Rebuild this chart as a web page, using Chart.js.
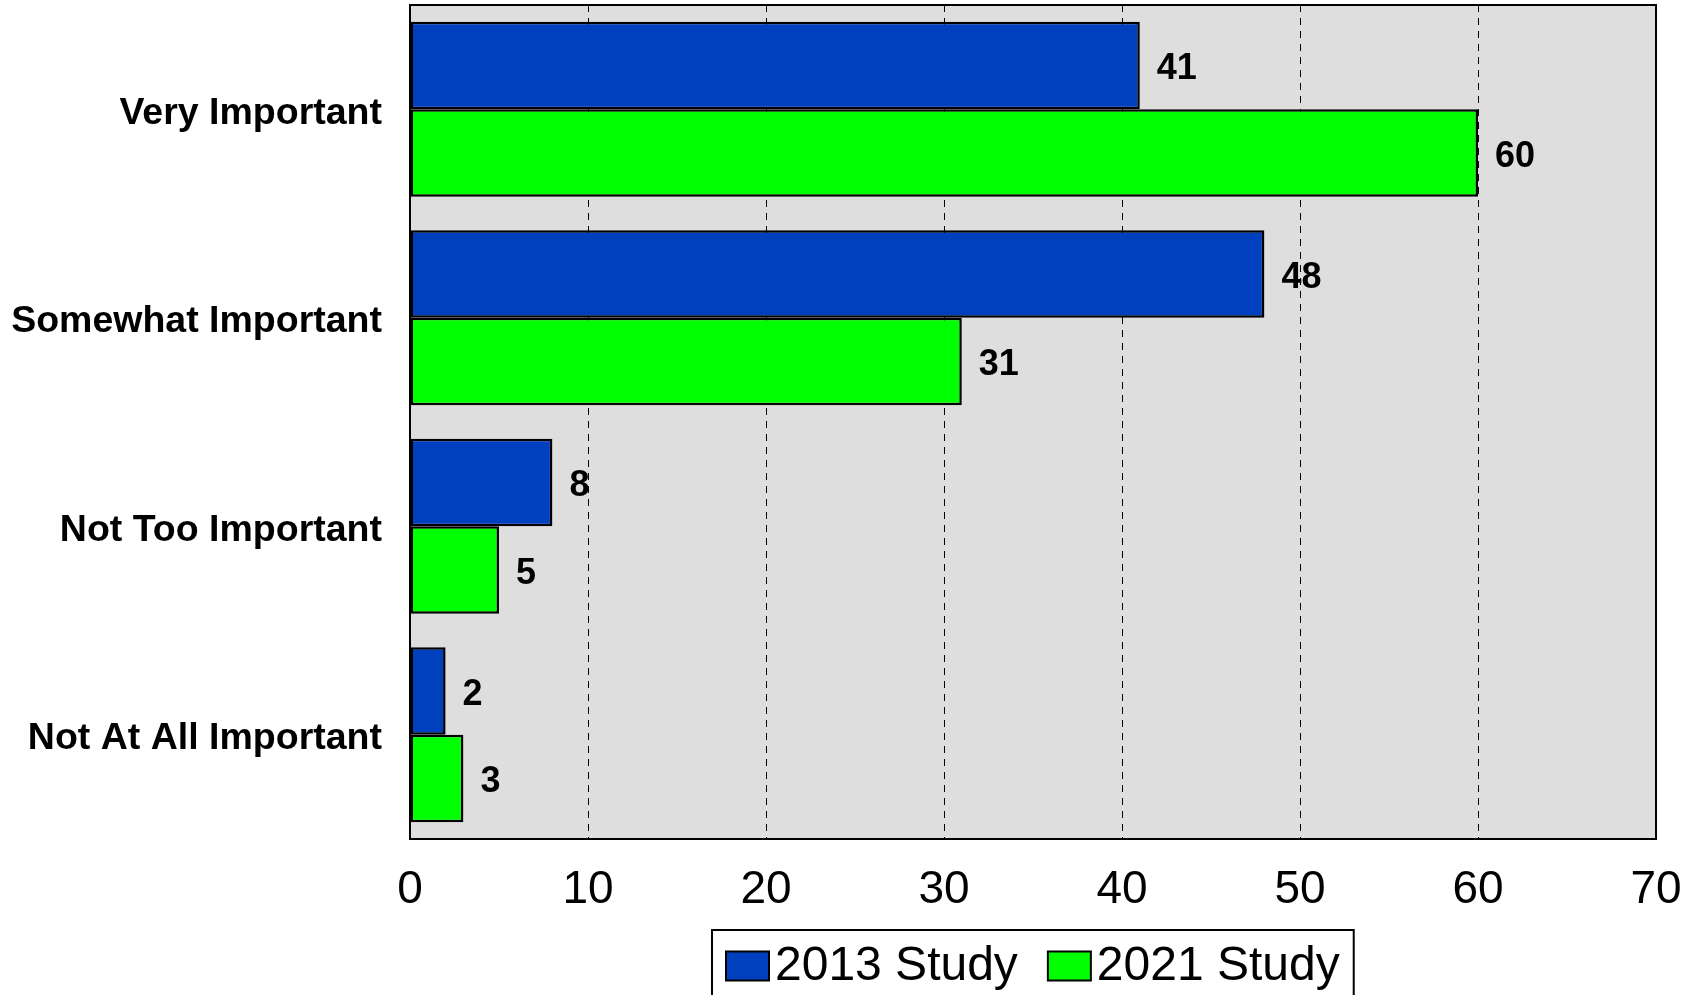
<!DOCTYPE html>
<html>
<head>
<meta charset="utf-8">
<script src="https://cdn.jsdelivr.net/npm/chart.js@4/dist/chart.umd.min.js"></script>
<style>
  html, body { margin: 0; padding: 0; background: #ffffff; }
  #chart { display: block; }
</style>
</head>
<body>
<canvas id="chart" width="1694" height="995"></canvas>
<script>
// Importance ratings, percent of respondents
const categories = ['Very Important', 'Somewhat Important', 'Not Too Important', 'Not At All Important'];
const study2013 = [41, 48, 8, 2];
const study2021 = [60, 31, 5, 3];
const seriesNames = ['2013 Study', '2021 Study'];
const xTicks = [0, 10, 20, 30, 40, 50, 60, 70];

const FONT = "Arial, 'Liberation Sans', sans-serif";

// grey plot background + black frame
const plotFrame = {
    id: 'plotFrame',
    beforeDraw(chart) {
        const { ctx, chartArea: a } = chart;
        ctx.save();
        ctx.fillStyle = '#dedede';
        ctx.fillRect(a.left, a.top, a.right - a.left, a.bottom - a.top);
        ctx.restore();
    },
    afterDatasetsDraw(chart) {
        const { ctx, chartArea: a } = chart;
        ctx.save();
        ctx.strokeStyle = '#000';
        ctx.lineWidth = 2;
        ctx.strokeRect(a.left, a.top, a.right - a.left, a.bottom - a.top);
        ctx.restore();
    }
};

// numbers at the end of each bar
const barValues = {
    id: 'barValues',
    afterDatasetsDraw(chart) {
        const { ctx } = chart;
        ctx.save();
        ctx.font = 'bold 36px ' + FONT;
        ctx.fillStyle = '#000';
        ctx.textAlign = 'left';
        ctx.textBaseline = 'middle';
        chart.data.datasets.forEach((ds, i) => {
            chart.getDatasetMeta(i).data.forEach((bar, j) => {
                ctx.fillText(String(ds.data[j]), bar.x + 17, bar.y + 4);
            });
        });
        ctx.restore();
    }
};

// boxed legend under the axis
const boxLegend = {
    id: 'boxLegend',
    afterDraw(chart) {
        const { ctx, chartArea: a } = chart;
        const sw = 43, sh = 29, gap = 6, itemGap = 30, padL = 14, padR = 14;
        ctx.save();
        ctx.font = '48px ' + FONT;
        const items = chart.data.datasets.map(ds => ({
            label: ds.label, color: ds.backgroundColor, w: ctx.measureText(ds.label).width
        }));
        let total = padL + padR;
        items.forEach((it, i) => { total += sw + gap + it.w + (i ? itemGap : 0); });
        const left = Math.round((a.left + a.right) / 2 - total / 2);
        const top = 930;
        const cy = 966;
        ctx.strokeStyle = '#000';
        ctx.lineWidth = 2;
        ctx.strokeRect(left, top, total, 100);
        let x = left + padL;
        items.forEach((it, i) => {
            if (i) x += itemGap;
            ctx.fillStyle = it.color;
            ctx.fillRect(x, cy - sh / 2, sw, sh);
            ctx.lineWidth = 2;
            ctx.strokeRect(x, cy - sh / 2, sw, sh);
            ctx.fillStyle = '#000';
            ctx.textAlign = 'left';
            ctx.textBaseline = 'middle';
            ctx.fillText(it.label, x + sw + gap, cy + 1);
            x += sw + gap + it.w;
        });
        ctx.restore();
    }
};

new Chart(document.getElementById('chart'), {
    type: 'bar',
    data: {
        labels: categories,
        datasets: [
            {
                label: seriesNames[0],
                data: study2013,
                backgroundColor: '#0040bf',
                borderColor: '#000',
                borderWidth: 2.5,
                borderSkipped: false
            },
            {
                label: seriesNames[1],
                data: study2021,
                backgroundColor: '#00ff00',
                borderColor: '#000',
                borderWidth: 2.5,
                borderSkipped: false
            }
        ]
    },
    options: {
        indexAxis: 'y',
        responsive: false,
        animation: false,
        devicePixelRatio: 1,
        categoryPercentage: 0.84,
        barPercentage: 1.0,
        layout: { padding: { top: 5, right: 38, bottom: 0, left: 0 } },
        plugins: {
            legend: { display: false },
            tooltip: { enabled: false }
        },
        scales: {
            x: {
                min: xTicks[0],
                max: xTicks[xTicks.length - 1],
                afterBuildTicks(scale) {
                    scale.ticks = xTicks.map(v => ({ value: v }));
                },
                afterFit(scale) {
                    scale.height = 156;
                    scale.paddingLeft = 0;
                    scale.paddingRight = 0;
                },
                grid: {
                    display: true,
                    color: '#000',
                    lineWidth: 1,
                    drawTicks: false
                },
                border: { display: false, dash: [7, 6] },
                ticks: {
                    color: '#000',
                    font: { family: FONT, size: 46 },
                    padding: 24,
                    maxRotation: 0
                }
            },
            y: {
                afterFit(scale) {
                    scale.width = 410;
                    scale.paddingTop = 0;
                    scale.paddingBottom = 0;
                },
                grid: { display: false, drawTicks: false },
                border: { display: false },
                ticks: {
                    color: '#000',
                    font: { family: FONT, size: 37.5, weight: 'bold' },
                    padding: 28,
                    labelOffset: 4
                }
            }
        }
    },
    plugins: [plotFrame, barValues, boxLegend]
});
</script>
</body>
</html>
